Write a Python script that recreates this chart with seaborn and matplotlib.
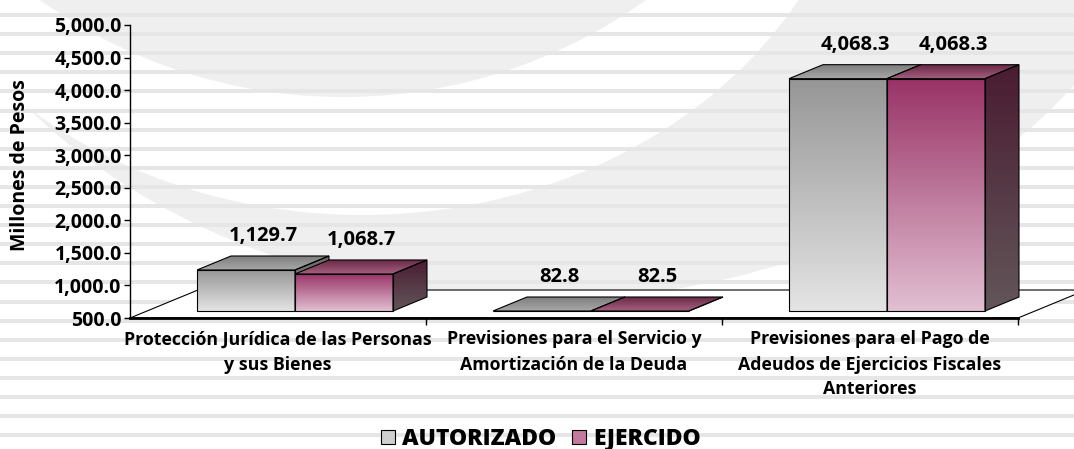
import numpy as np
import pandas as pd
import matplotlib
matplotlib.use("Agg")
import matplotlib.pyplot as plt
import seaborn as sns
from matplotlib.colors import LinearSegmentedColormap
from matplotlib.patches import Polygon, Ellipse, Patch

# datos
categories = [
    "Protección Jurídica de las Personas\ny sus Bienes",
    "Previsiones para el Servicio y\nAmortización de la Deuda",
    "Previsiones para el Pago de\nAdeudos de Ejercicios Fiscales\nAnteriores",
]
series = ["AUTORIZADO", "EJERCIDO"]
autorizado = [1129.7, 82.8, 4068.3]
ejercido = [1068.7, 82.5, 4068.3]
y_ticks = [500, 1000, 1500, 2000, 2500, 3000, 3500, 4000, 4500, 5000]

df = pd.DataFrame({
    "categoria": categories * 2,
    "serie": [series[0]] * 3 + [series[1]] * 3,
    "valor": autorizado + ejercido,
})

sns.set_theme(style="ticks", rc={"text.color": "black", "axes.labelcolor": "black",
                                 "xtick.color": "black", "ytick.color": "black",
                                 "axes.edgecolor": "black"})
plt.rcParams["font.family"] = ["Open Sans", "DejaVu Sans"]
plt.rcParams["font.weight"] = "bold"

W, H = 1074, 449
fig = plt.figure(figsize=(W / 100, H / 100), dpi=100)
fig.patch.set_facecolor("white")

# fondo: marca de agua y franjas
bg = fig.add_axes([0, 0, 1, 1], zorder=0)
bg.set_xlim(0, W)
bg.set_ylim(H, 0)
bg.axis("off")
bg.add_patch(Ellipse((540, -200), 1300, 1000, color="#efefef", lw=0))
bg.add_patch(Ellipse((362, -205), 1000, 840, color="white", lw=0))
bg.add_patch(Ellipse((343, -425), 1044, 1044, color="#efefef", lw=0))
for k in range(23):
    y = 15 + 19.1 * k
    bg.axhspan(y - 2, y + 2, color="#e6e6e6", lw=0)

ax = fig.add_axes([130 / W, 1 - 318 / H, 888 / W, 293 / H], zorder=1)
ax.set_facecolor("none")
sns.barplot(data=df, x="categoria", y="valor", hue="serie", errorbar=None,
            palette=["#c8c8c8", "#c06890"], width=0.662, legend=False,
            edgecolor="black", linewidth=0.8, ax=ax)
ax.set_xlim(-0.5, 2.5)
ax.set_ylim(500, 5000)

pos = ax.get_position()
px_x = 3.0 / (pos.width * W)
px_y = 4500.0 / (pos.height * H)
rx, ry = 17 * px_x, 7 * px_y     # retroceso de las barras
dx, dy = 34 * px_x, 14 * px_y    # profundidad de las barras
floor = 500

styles = {
    0: dict(front=["#e4e4e4", "#969696"], top=["#a8a8a8", "#7e7e7e"],
            side=["#8a8a8a", "#6a6a6a"], z=3),
    1: dict(front=["#e2bfd2", "#993366"], top=["#a5607f", "#6a2a48"],
            side=["#625659", "#4a1c32"], z=4),
}


def shade(patch, colors, extent):
    cmap = LinearSegmentedColormap.from_list("g", colors)
    im = ax.imshow(np.linspace(0, 1, 128).reshape(-1, 1), cmap=cmap, extent=extent,
                   origin="lower", aspect="auto", interpolation="bilinear",
                   zorder=patch.get_zorder() - 0.01)
    im.set_clip_box(None)
    im.set_clip_path(patch)


bars = list(ax.patches)
for i, p in enumerate(bars):
    st = styles[i // 3]
    v = p.get_height()
    x0 = p.get_x() + rx
    x1 = x0 + p.get_width()
    base = floor + ry
    top = max(v, floor) + ry
    p.set_x(x0)
    p.set_y(base)
    p.set_height(top - base)
    p.set_facecolor("none")
    p.set_zorder(st["z"])
    p.set_clip_on(False)
    if top > base:
        shade(p, st["front"], [x0, x1, base, top])

    side = Polygon([(x1, base), (x1 + dx, base + dy), (x1 + dx, top + dy), (x1, top)],
                   closed=True, facecolor="none", edgecolor="black", lw=0.8,
                   zorder=st["z"], clip_on=False)
    ax.add_patch(side)
    shade(side, st["side"], [x1, x1 + dx, base, top + dy])

    lid = Polygon([(x0, top), (x1, top), (x1 + dx, top + dy), (x0 + dx, top + dy)],
                  closed=True, facecolor="none", edgecolor="black", lw=0.8,
                  zorder=st["z"], clip_on=False)
    ax.add_patch(lid)
    shade(lid, st["top"], [x0, x1 + dx, top, top + dy])

    ax.annotate(f"{v:,.1f}", xy=((x0 + x1) / 2 + dx / 2, top + dy), xytext=(0, 7),
                textcoords="offset points", ha="center", va="bottom",
                fontsize=14.5, fontweight="bold", zorder=6)

ax.set_xlim(-0.5, 2.5)
ax.set_ylim(500, 5000)

# piso
fx0, fx1 = pos.x0 * W, pos.x1 * W
fy = (1 - pos.y0) * H
bg.add_patch(Polygon([(fx0, fy), (fx1, fy), (fx1 + 68, fy - 28), (fx0 + 68, fy - 28)],
                     closed=True, facecolor="white", edgecolor="black", lw=0.8, zorder=3))

# ejes
ax.set_yticks(y_ticks)
ax.set_yticklabels([f"{t:,.1f}" for t in y_ticks])
ax.tick_params(axis="y", length=4, width=1, pad=2, labelsize=14)
ax.set_xticks(range(3))
ax.set_xticklabels(categories, linespacing=1.5)
ax.tick_params(axis="x", which="major", length=0, pad=9, labelsize=12.8)
ax.set_xticks([0.5, 1.5, 2.5], minor=True)
ax.tick_params(axis="x", which="minor", length=5, width=1)
for lab in ax.get_xticklabels() + ax.get_yticklabels():
    lab.set_fontweight("bold")
sns.despine(ax=ax)
ax.spines["left"].set_linewidth(1)
ax.spines["bottom"].set_linewidth(2)
ax.set_xlabel("")
ax.set_ylabel("Millones de Pesos", fontsize=14, fontweight="bold")
ax.yaxis.set_label_coords(-0.1126, 0.522)

handles = [Patch(facecolor="#cfcfcf", edgecolor="black", lw=0.8),
           Patch(facecolor="#c47a9e", edgecolor="black", lw=0.8)]
fig.legend(handles, series, loc="center", bbox_to_anchor=(541 / W, 1 - 439 / H), ncol=2,
           frameon=False, prop={"weight": "heavy", "size": 16.5}, handlelength=0.6,
           handleheight=0.6, handletextpad=0.3, columnspacing=0.7)

fig.savefig("out.png", dpi=100)
